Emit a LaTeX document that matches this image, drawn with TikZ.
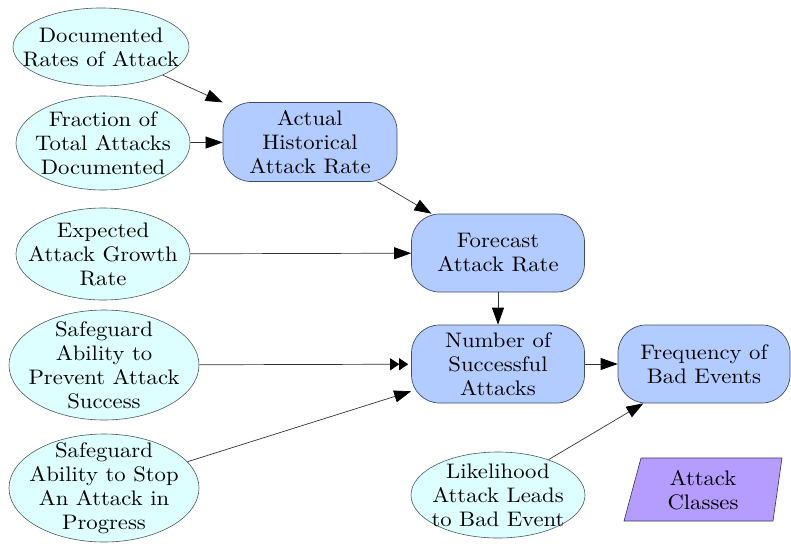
\documentclass[tikz,border=0pt]{standalone}
\usepackage{fontspec}
\setmainfont{lmroman10-regular.otf}[FakeStretch=1.08]
\usetikzlibrary{shapes.geometric,arrows.meta}
\definecolor{inputfill}{HTML}{DDFFFF}
\definecolor{inputline}{HTML}{4A5A5A}
\definecolor{calcfill}{HTML}{B3CCFF}
\definecolor{calcline}{HTML}{3E4C6E}
\definecolor{classfill}{HTML}{B59CFF}
\definecolor{classline}{HTML}{3A3050}
\definecolor{edgeline}{HTML}{333333}
\tikzset{
  lbl/.style={align=center,font=\fontsize{21}{24}\selectfont,inner sep=0pt},
  inputnode/.style={ellipse,inner sep=0pt,draw=inputline,fill=inputfill,line width=0.6pt},
  calcnode/.style={lbl,rectangle,rounded corners=28pt,draw=calcline,fill=calcfill,line width=0.7pt},
  link/.style={draw=edgeline,line width=0.7pt,-{Triangle[length=17pt,width=12pt,color=black]}},
}
\begin{document}
\begin{tikzpicture}[x=1pt,y=-1pt]
\useasboundingbox (0,0) rectangle (791,543);

% input quantities: ellipse outlines, then their labels
\node[inputnode,minimum width=176pt,minimum height=78pt] (doc) at (101,47) {};
\node[lbl] (doc-t) at (doc) {Documented\\Rates of Attack};
\node[inputnode,minimum width=174pt,minimum height=94pt] (frac) at (103,143) {};
\node[lbl] (frac-t) at (frac) {Fraction of\\Total Attacks\\Documented};
\node[inputnode,minimum width=174pt,minimum height=92pt] (grow) at (103,254) {};
\node[lbl] (grow-t) at (grow) {Expected\\Attack Growth\\Rate};
\node[inputnode,minimum width=190pt,minimum height=110pt] (prev) at (104,365) {};
\node[lbl] (prev-t) at (prev) {Safeguard\\Ability to\\Prevent Attack\\Success};
\node[inputnode,minimum width=190pt,minimum height=108pt] (stop) at (104,488) {};
\node[lbl] (stop-t) at (stop) {Safeguard\\Ability to Stop\\An Attack in\\Progress};
\node[inputnode,minimum width=174pt,minimum height=86pt] (like) at (498,495) {};
\node[lbl] (like-t) at (like) {Likelihood\\Attack Leads\\to Bad Event};

% calculated quantities
\node[calcnode,minimum width=174pt,minimum height=79pt] (act) at (310,142) {Actual\\Historical\\Attack Rate};
\node[calcnode,minimum width=173pt,minimum height=78pt] (fore) at (498,253) {Forecast\\Attack Rate};
\node[calcnode,minimum width=173pt,minimum height=78pt] (num) at (498,364) {Number of\\Successful\\Attacks};
\node[calcnode,minimum width=172pt,minimum height=78pt] (freq) at (704,364) {Frequency of\\Bad Events};

% class index
\draw[fill=classfill,draw=classline,line width=0.6pt]
  (641,458) -- (782,458) -- (773,521) -- (624,521) -- cycle;
\node[lbl] (cls) at (703,490) {Attack\\Classes};

% influences
\draw[link] (doc) -- (act);
\draw[link] (frac) -- (act);
\draw[link] (act) -- (fore);
\draw[link] (grow) -- (fore);
\draw[link] (fore) -- (num);
\draw[draw=edgeline,line width=0.7pt,shorten >=3pt,
  -{Triangle[length=9pt,width=12pt,color=black,sep=0pt]Triangle[length=9pt,width=12pt,color=black]}] (prev) -- (num);
\draw[link] (stop) -- (num);
\draw[link] (num) -- (freq);
\draw[link] (like.35) -- (freq.213);
\end{tikzpicture}
\end{document}
